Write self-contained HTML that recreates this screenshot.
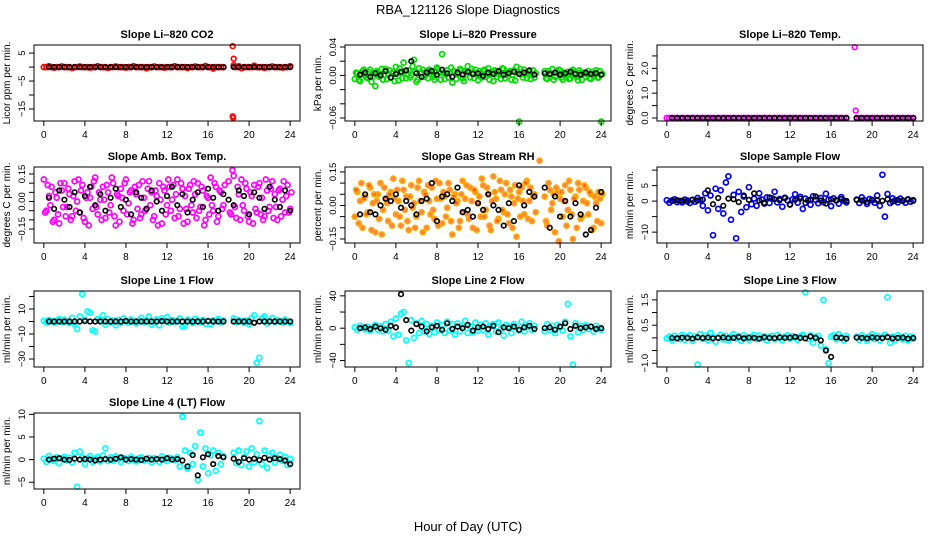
<!DOCTYPE html>
<html><head><meta charset="utf-8"><style>
body{margin:0;background:#fff;}
svg{display:block;font-family:"Liberation Sans",Arial,sans-serif;}
</style></head><body>
<svg id="chart" width="936" height="540" viewBox="0 0 936 540">
<text x="468" y="14" text-anchor="middle" font-size="13">RBA_121126  Slope Diagnostics</text>
<text x="468" y="531" text-anchor="middle" font-size="13">Hour of Day (UTC)</text>
</svg>
<script>
const xTicks=[0,4,8,12,16,20,24];
const co2Vals=[0,0,0.3,0,-0.2,0,0,0.2,0,0,0,-0.3,0,0,0.2,0,0,0,-0.2,0,0,0.3,0,0,0,-0.3,0,0,0.2,0,0,0,-0.2,0,0,0.3,0,0,0,0,-0.4,0,0,0.2,0,0,0,-0.2,0,0,0,0.3,0,0,0,0,-0.3,0,0,0.2,0,0,0,0.4,0,0,-0.5,0,0,0,0,null,null,null,0.6,0,0.3,-0.4,0,0,0,0,0.5,0,0,0,-0.3,0,0,0.2,0,0,0,-0.2,0,0,0.3];
const co2Black=[0,0,0,0,0,0,0,0,0,0,0,0,0,0,0,0,0,0,0,0,0,0,0,0,0,0,0,0,0,0,0,0,0,0,0,null,0,0,0,0,0,0,0,0,0,0,0,0];
const co2OutHours=[18.4,18.5,18.4,18.45];
const co2OutVals=[7.5,3,-17.6,-18.2];
const presVals=[-0.005,0.003,-0.008,0.006,0,-0.004,0.008,-0.002,-0.015,0.004,0.002,-0.006,0.009,0.001,-0.003,0.005,0.012,-0.007,0.003,0.018,-0.004,0.007,0,0.022,-0.009,0.01,0.004,-0.002,0.006,0.008,0.002,-0.006,0.011,0.004,0.03,-0.005,0.007,0.003,-0.01,0.005,0.002,0.009,-0.004,0.006,0.013,-0.003,0.004,0.008,-0.007,0.001,0.006,-0.002,0.01,0.003,-0.008,0.005,0.002,-0.005,0.009,0.001,0.004,-0.006,0.007,0.012,-0.065,0.002,0.008,-0.004,0.005,0.001,-0.003,null,null,null,0.006,-0.005,0.003,0.009,-0.002,0.004,0.007,-0.006,0.002,0.005,-0.004,0.008,0.001,-0.007,0.004,0.003,-0.002,0.006,-0.005,0.002,0.007,-0.003,-0.065];
const presVals2=[0.004,-0.006,0.002,0.008,-0.003,0.005,-0.009,0.003,0.006,-0.002,0.009,0.001,-0.005,0.007,0.003,-0.008,0.004,0.01,-0.004,0.006,0.002,-0.003,0.013,0.005,-0.006,0.003,0.008,0.001,-0.004,0.007,-0.002,0.005,0.009,-0.006,0.004,0.002,-0.003,0.011,0.006,-0.005,0.003,0.007,-0.008,0.002,0.005,0.009,-0.004,0.001,0.006,-0.003,0.008,0.002,-0.006,0.004,0.007,-0.002,0.005,0.01,-0.004,0.003,0.006,0.001,-0.007,0.005,0.009,-0.003,0.004,0.002,-0.005,0.007,0.003,null,null,null,-0.004,0.006,0.002,-0.006,0.005,0.008,-0.003,0.004,0.001,-0.005,0.006,0.003,-0.002,0.007,-0.006,0.004,0.002,-0.004,0.005,0.001,-0.003,0.006,0.002];
const presBlack=[0.001,0.004,-0.002,0.003,0,0.006,-0.003,0.002,0.005,0.007,0.02,0.003,-0.002,0.004,0.006,0.001,0.008,0.003,-0.002,0.004,0.001,0.005,0.002,0.003,-0.001,0.004,0.002,0.006,0.001,0.003,0.005,0.002,0.004,0.007,0.001,null,0.003,0.002,0.004,0.001,0.003,0.005,0.002,0.001,0.004,0.002,0.003,0.001];
const tempVals=[0,0,0,0,0,0,0,0,0,0,0,0,0,0,0,0,0,0,0,0,0,0,0,0,0,0,0,0,0,0,0,0,0,0,0,0,0,0,0,0,0,0,0,0,0,0,0,0,0,0,0,0,0,0,0,0,0,0,0,0,0,0,0,0,0,0,0,0,0,0,0,null,null,null,0,0,0,0,0,0,0,0,0,0,0,0,0,0,0,0,0,0,0,0,0,0,0];
const tempBlack=[0,0,0,0,0,0,0,0,0,0,0,0,0,0,0,0,0,0,0,0,0,0,0,0,0,0,0,0,0,0,0,0,0,0,0,null,0,0,0,0,0,0,0,0,0,0,0,0];
const tempOutHours=[18.3,18.4];
const tempOutVals=[2.85,0.3];
const ambVals=[0.12,-0.05,0.03,0.08,-0.1,0.02,-0.12,0.06,0.1,-0.03,0.04,-0.08,0.11,0,-0.06,0.09,-0.11,0.05,0.02,-0.04,0.13,-0.07,0.01,0.08,-0.09,0.05,-0.02,0.1,-0.13,0.03,0.07,-0.05,0.12,-0.01,0.06,-0.1,0.04,0.09,-0.07,0.02,-0.04,0.11,0.05,-0.08,0.03,0.1,-0.12,0.06,-0.02,0.08,0.01,-0.09,0.12,-0.04,0.07,0.03,-0.11,0.09,-0.06,0.04,0.1,-0.03,0.06,-0.1,0.02,0.13,-0.05,0.08,-0.08,0.05,-0.02,null,0.11,-0.07,0.14,-0.09,0.04,0.12,-0.05,0.07,-0.11,0.03,0.09,-0.06,0.1,0.02,-0.08,0.06,-0.03,0.11,0.04,-0.1,0.07,0.01,-0.06,0.09,-0.04];
const ambVals2=[-0.06,0.09,-0.02,-0.11,0.05,-0.07,0.1,-0.03,-0.08,0.07,-0.1,0.03,-0.05,0.12,0.06,-0.09,0.02,-0.13,0.08,0.11,-0.03,0.05,-0.1,0.01,0.09,-0.06,0.13,-0.08,0.04,-0.11,0.02,0.1,-0.07,0.05,-0.12,0.08,-0.04,-0.09,0.11,-0.05,0.07,-0.02,-0.1,0.06,-0.13,0.01,0.08,-0.07,0.12,-0.05,0.09,0.04,-0.08,0.1,-0.12,-0.04,0.07,-0.02,0.11,-0.09,-0.05,0.08,-0.13,0.03,-0.07,-0.02,0.1,-0.11,0.06,-0.04,0.09,null,-0.06,0.17,-0.03,0.08,-0.1,-0.02,0.1,-0.08,0.05,-0.12,-0.04,0.08,-0.07,-0.1,0.12,-0.05,0.07,-0.09,-0.03,0.06,-0.08,0.11,0.03,-0.06,0.05];
const ambBlack=[0.02,-0.04,0.06,0.01,-0.03,0.05,-0.06,0.03,0.08,-0.02,0.04,-0.05,0.02,0.07,-0.03,0.01,-0.07,0.05,0.02,-0.04,0.06,0,-0.05,0.03,0.08,-0.02,0.04,-0.06,0.01,0.05,-0.03,0.07,0.02,-0.05,0.04,0.01,-0.02,0.06,0.03,-0.07,0.05,0.02,-0.04,0.08,0.01,-0.03,0.06,-0.05];
const rhVals=[-0.05,0.06,0.02,-0.1,0.04,-0.03,0.08,0.01,-0.12,0.05,0.1,-0.02,0.03,-0.07,0.06,0.12,-0.04,0.02,-0.09,0.07,0.04,-0.11,0.09,0.01,-0.05,0.11,-0.03,0.06,-0.1,0.02,0.08,-0.06,0.03,0.1,-0.08,0.04,-0.01,0.07,-0.13,0.05,0.02,-0.07,0.11,0.03,-0.04,0.08,-0.1,0.06,0.01,-0.05,0.09,-0.02,0.05,-0.11,0.13,0.03,-0.06,0.07,-0.03,0.1,-0.08,0.04,0.01,-0.14,0.06,0.08,-0.04,0.11,0.02,-0.07,0.05,null,0.2,null,0.04,-0.09,0.07,0.01,-0.12,0.06,0.03,-0.05,0.09,-0.02,0.07,-0.15,0.04,0.1,-0.06,0.02,0.08,-0.04,0.05,-0.1,0.01,0.06,-0.08];
const rhVals2=[0.07,-0.08,0.1,0.03,-0.04,0.09,-0.11,0.05,0.02,-0.06,-0.13,0.08,0.01,0.05,-0.09,0.03,0.07,-0.05,0.11,-0.02,-0.07,0.04,-0.01,-0.1,0.08,0.02,-0.12,0.05,0.09,-0.04,-0.02,0.11,-0.09,0.03,0.06,-0.05,0.1,-0.07,0.04,0.01,-0.1,0.05,-0.03,0.09,-0.06,0.02,0.07,-0.11,0.04,0.12,-0.05,0.08,-0.09,0.02,0.06,-0.07,0.11,-0.02,0.05,-0.04,0.07,-0.1,0.09,0.03,-0.05,0.02,0.1,-0.06,0.08,0.04,-0.03,null,null,null,-0.07,0.1,-0.02,0.05,0.08,-0.16,0.06,0.02,-0.09,0.11,-0.04,0.03,-0.1,0.07,-0.05,0.09,0.01,0.06,-0.11,0.04,-0.07,0.03,0.05];
const rhBlack=[-0.04,0.05,-0.03,-0.04,0,0.03,0.02,0.05,-0.01,0.02,0,-0.04,0.02,0.03,0.1,-0.07,0.04,0.05,0.02,0.08,-0.03,-0.02,-0.05,0.01,-0.02,0.05,0,-0.02,-0.09,0.01,-0.07,0.09,0,0.06,0.04,null,0.08,-0.1,0.04,-0.05,0.02,-0.05,0.01,-0.04,-0.13,-0.11,-0.01,0.06];
const sampVals=[0.3,-0.5,0.2,0.6,-0.3,0.1,-0.4,0.5,0.2,-0.6,0.4,-0.2,1,0.3,-1.5,2.5,-3,1.8,-11,4,-2.5,3.5,-4,6,8,-6,2,-12,3,-3.5,1.5,-2,4.5,-1,0.8,-1.5,2.5,0.5,-0.8,1.2,-0.6,0.9,3,-0.4,0.7,-1.8,1.1,0.3,-1,0.6,2.2,-0.5,1.4,-2.5,0.8,0.2,-1.2,1.6,0.4,-0.7,1,-0.3,2.4,0.5,-1.6,0.9,0.2,-0.8,1.3,0.1,-0.4,null,null,null,0.5,-0.6,1.2,0.3,-0.9,0.7,0.2,-0.5,1.8,-1.5,8.5,-5,2.3,-0.6,0.9,0.3,-0.4,0.8,0.1,-0.5,0.6,-0.2,0.3];
const sampBlack=[0,0.3,0.1,-0.2,0.4,0.2,0.5,3.5,-1,1,-1.5,0.8,0.6,-0.3,1.8,0.4,2.5,0.2,-0.5,1.2,0.6,0.3,1,-1.2,0.4,0.8,-0.6,0.5,1.5,0.2,-0.8,0.6,0.3,0.7,0.1,null,0.4,0.2,-0.3,0.5,0.3,0.1,0.6,-0.2,0.4,0.2,0.5,0.1];
const l1Vals=[0.5,-0.8,1.2,0.3,-1,0.6,2,-0.5,1.5,0.2,-1.2,3,-2,-6,4,22,1.5,8,7,-7,-8,2,1,5,-2.5,1.8,-0.6,0.9,-3,1.2,-1,2.5,0.4,-0.8,1.6,0.2,-1.5,0.7,3,-0.4,1.1,4,-2.5,-0.3,1.8,-3,2.6,0.5,3.5,-0.9,1.2,-0.2,0.8,2.5,-4,-3.5,1.5,0.4,-1.1,2.2,0.6,-0.7,1.3,-1.8,0.5,-2.2,1,0.2,2,-0.5,0.8,null,null,null,2.5,-0.6,1.2,0.3,-1,0.7,-2,3,5,-33,-29,2.5,4,-1.5,0.6,2.8,-0.4,1.1,0.3,-0.8,1.5,0.2,-1.2];
const l1Black=[0,0,0,0,0,0,0,0.3,0,0,0,0,0,0,0,0.4,0,0,0,0,0,0,0.3,0,0,0,0,0,0,0,0,0.3,0,0,0,null,0,0,0,0,-1,0,0,0,0,0,0,0];
const l2Vals=[1,-2,3,0.5,-1.5,2,-3,1,4,-2,2.5,-4,5,-3,8,-10,12,-8,18,20,-15,-43,10,-12,6,-6,9,-4,5,-7,3,-5,7,-2,4,-6,8,-3,5,-8,6,-4,3,9,-6,2,-5,7,-3,4,-2,6,-8,3,5,-4,7,-1,-9,4,2,-6,5,1,-3,8,-4,2,6,-2,3,null,null,null,-4,5,-2,3,-6,4,1,-3,8,30,-10,-45,6,-5,3,-2,4,-1,2,-4,3,0.5,-2];
const l2Black=[0,1,-1,2,0,-2,3,1,42,10,-3,5,2,-4,1,3,-2,6,-1,2,0,4,-3,1,2,-1,3,-5,1,0,2,-2,1,3,-1,null,0,1,-2,2,6,-1,3,0,1,2,-1,0];
const l3Vals=[-0.02,0.05,-0.1,0.08,0,-0.05,0.12,-0.08,0.03,0.1,-0.12,0.06,-1.05,0.15,-0.04,0.09,-0.1,0.2,0.05,-0.15,0.02,0.12,-0.06,0.08,-0.1,0.04,0.15,-0.03,0.07,-0.12,0.1,0.02,-0.08,0.05,0.12,-0.05,0.09,-0.02,0.06,-0.1,0.03,0.08,-0.06,0.11,0,-0.09,0.05,0.1,-0.04,0.07,0.02,-0.08,0.06,0.12,1.8,-0.05,0.1,-0.2,0.04,0.08,-0.3,1.5,-0.45,-1.0,0.05,0.1,-0.06,0.15,0.02,-0.1,0.08,null,null,null,0.05,-0.08,0.1,0.02,-0.12,0.06,0.15,-0.05,0.08,-0.1,0.04,0.12,1.6,-0.2,0.05,-0.08,0.1,0.02,-0.06,0.08,-0.1,0.05,-0.04];
const l3Black=[0,-0.02,0.01,0,-0.03,0.02,0,0.01,-0.02,0,0.02,-0.01,0,0.03,-0.02,0.01,0,-0.03,0.02,0,-0.01,0.02,0,0.01,0.04,0,-0.02,0.05,0,-0.1,-0.5,-0.75,0.02,0,-0.03,null,0.01,0,-0.02,0.02,0,-0.01,0.03,-0.02,0,0.01,-0.03,0];
const l4Vals=[0.2,-0.5,0.8,0,-0.3,0.5,-0.8,0.3,0.6,-0.2,0.4,-0.6,1.5,-6,1.8,0.5,-1,0.3,0.8,-0.5,0.2,0.6,-0.4,0.9,2.5,-0.3,0.5,-0.2,0.7,0.1,-0.5,0.4,0.2,-0.3,0.6,0,-0.4,0.3,0.5,-0.2,0.1,0.4,-0.6,0.3,0.2,-0.5,0.7,0,-0.3,0.4,0.2,-0.1,0.5,-1.5,9.5,2,-2,1.5,-1,3,-4.5,6,-1.5,2.5,-3,1,2,-2.5,1.5,-1,0.8,null,null,null,1.5,-0.8,2,-1.2,0.5,1.8,-1.5,2.5,-0.6,1.2,8.5,-1,2,-1.8,0.9,1.5,-0.7,0.4,1.1,-0.3,0.6,-1.2,0.2];
const l4Black=[0,0.2,0.3,0,-0.1,0.2,0,0.1,0,-0.2,0,0.1,0,0.2,0.5,0,0.1,0,-0.1,0.2,0,0.1,0,0.3,0,0.1,-0.2,-1.5,1,-3.5,0.5,1.2,-1,0.8,0.5,null,0.2,-0.5,0.3,0,0.2,-0.1,0.4,0,0.3,0.1,-0.2,-1];

const NS="http://www.w3.org/2000/svg";
const svg=document.getElementById('chart');
function mk(tag,attrs,parent){const e=document.createElementNS(NS,tag);for(const k in attrs)e.setAttribute(k,attrs[k]);(parent||svg).appendChild(e);return e;}
function hoursGrid(n,start,step){const h=[];for(let i=0;i<n;i++)h.push(start+i*step);return h;}
const colX=[34,345,657],rowY=[45,167,291,413],PW=266,PH=76;
const panels=[
 {key:'co2',title:'Slope Li\u2013820 CO2',ylab:'Licor ppm per min.',col:0,row:0,yr:[-19.3,7.9],ticks:[5,0,-5,-10,-15],labels:{'5':'5','-5':'\u22125','-15':'\u221215'},color:'#ff0000',series:[co2Vals],black:co2Black,outH:co2OutHours,outV:co2OutVals},
 {key:'pressure',title:'Slope Li\u2013820 Pressure',ylab:'kPa per min.',col:1,row:0,yr:[-0.0642,0.0428],ticks:[0.04,0.02,0,-0.02,-0.04,-0.06],labels:{'0.04':'0.04','0':'0.00','-0.06':'\u22120.06'},color:'#00dd00',series:[presVals,presVals2],black:presBlack},
 {key:'temp',title:'Slope Li\u2013820 Temp.',ylab:'degrees C per min.',col:2,row:0,yr:[-0.12,2.94],ticks:[0,0.5,1,1.5,2,2.5],labels:{'0':'0.0','1':'1.0','2':'2.0'},color:'#ff00ff',series:[tempVals],black:tempBlack,outH:tempOutHours,outV:tempOutVals},
 {key:'amb-box-temp',title:'Slope Amb. Box Temp.',ylab:'degrees C per min.',col:0,row:1,yr:[-0.226,0.188],ticks:[0.15,0.1,0.05,0,-0.05,-0.1,-0.15],labels:{'0.15':'0.15','0':'0.00','-0.15':'\u22120.15'},color:'#ff00ff',series:[ambVals,ambVals2],black:ambBlack},
 {key:'gas-rh',title:'Slope Gas Stream RH',ylab:'percent per min.',col:1,row:1,yr:[-0.168,0.172],ticks:[0.15,0.1,0.05,0,-0.05,-0.1,-0.15],labels:{'0.15':'0.15','0':'0.00','-0.15':'\u22120.15'},color:'#ffaa00',inner:'#ff2200',series:[rhVals,rhVals2],black:rhBlack},
 {key:'sample-flow',title:'Slope Sample Flow',ylab:'ml/min per min.',col:2,row:1,yr:[-13.5,11],ticks:[10,5,0,-5,-10],labels:{'5':'5','0':'0','-10':'\u221210'},color:'#0000ff',series:[sampVals],black:sampBlack},
 {key:'line1',title:'Slope Line 1 Flow',ylab:'ml/min per min.',col:0,row:2,yr:[-36.4,24.4],ticks:[20,10,0,-10,-20,-30],labels:{'10':'10','-10':'\u221210','-30':'\u221230'},color:'#00ffff',series:[l1Vals],black:l1Black},
 {key:'line2',title:'Slope Line 2 Flow',ylab:'ml/min per min.',col:1,row:2,yr:[-48,46],ticks:[40,20,0,-20,-40],labels:{'40':'40','0':'0','-40':'\u221240'},color:'#00ffff',series:[l2Vals],black:l2Black},
 {key:'line3',title:'Slope Line 3 Flow',ylab:'ml/min per min.',col:2,row:2,yr:[-1.15,1.85],ticks:[1.5,1,0.5,0,-0.5,-1],labels:{'1.5':'1.5','0.5':'0.5','-1':'\u22121.0'},color:'#00ffff',series:[l3Vals],black:l3Black},
 {key:'line4',title:'Slope Line 4 (LT) Flow',ylab:'ml/min per min.',col:0,row:3,yr:[-6.5,10.3],ticks:[10,5,0,-5],labels:{'10':'10','5':'5','0':'0','-5':'\u22125'},color:'#00ffff',series:[l4Vals],black:l4Black}
];
panels.forEach(p=>{
 const x0=colX[p.col],y0=rowY[p.row];
 const g=mk('g',{});
 
 
 const sx=h=>x0+PW*0.037+(PW*(1-0.074))*h/24;
 const sy=v=>y0+PH-(v-p.yr[0])/(p.yr[1]-p.yr[0])*PH;
 const t=mk('text',{x:x0+PW/2,y:y0-7,'text-anchor':'middle','font-size':'11','font-weight':'bold'},g);
 t.textContent=p.title;
 
 
 const yl=mk('text',{x:0,y:0,'text-anchor':'middle','font-size':'10',transform:`translate(${x0-24},${y0+PH/2}) rotate(-90)`},g);
 yl.textContent=p.ylab;
 
 
 const pts=mk('g',{},g);
 
 
 p.series.forEach((vals,si)=>{
  const hrs=hoursGrid(vals.length,si*0.125,0.25);
  vals.forEach((v,i)=>{
   if(v===null)return;
   const c=mk('circle',{cx:sx(hrs[i]).toFixed(1),cy:sy(v).toFixed(1),r:2.5,fill:p.inner?p.inner:'none','fill-opacity':p.inner?0.6:1,stroke:p.color,'stroke-width':1.7},pts);
   
   
  });
 });
 if(p.outH){p.outH.forEach((h,i)=>{
   const c=mk('circle',{cx:sx(h).toFixed(1),cy:sy(p.outV[i]).toFixed(1),r:2.4,fill:'none',stroke:p.color,'stroke-width':1.6},pts);
   
   
 });}
 const bh=hoursGrid(p.black.length,0.5,0.5);
 p.black.forEach((v,i)=>{
  if(v===null)return;
  const c=mk('circle',{cx:sx(bh[i]).toFixed(1),cy:sy(v).toFixed(1),r:2.3,fill:'none',stroke:'#000','stroke-width':1.6},pts);
  
  
 });
 const box=mk('rect',{x:x0,y:y0,width:PW,height:PH,fill:'none',stroke:'#000','stroke-width':1},g);
 
 
 xTicks.forEach(h=>{
  mk('line',{x1:sx(h),x2:sx(h),y1:y0+PH,y2:y0+PH+5,stroke:'#000'},g);
  const tl=mk('text',{x:sx(h),y:y0+PH+17,'text-anchor':'middle','font-size':'10'},g);
  tl.textContent=h;
  
  
 });
 p.ticks.forEach(v=>{
  mk('line',{x1:x0-5,x2:x0,y1:sy(v),y2:sy(v),stroke:'#000'},g);
  const lab=p.labels[String(v)];
  if(lab){
   const tl=mk('text',{x:0,y:0,'text-anchor':'middle','font-size':'9.5',transform:`translate(${x0-9},${sy(v)}) rotate(-90)`},g);
   tl.textContent=lab;
   
   
  }
 });
});
</script>
</body></html>
